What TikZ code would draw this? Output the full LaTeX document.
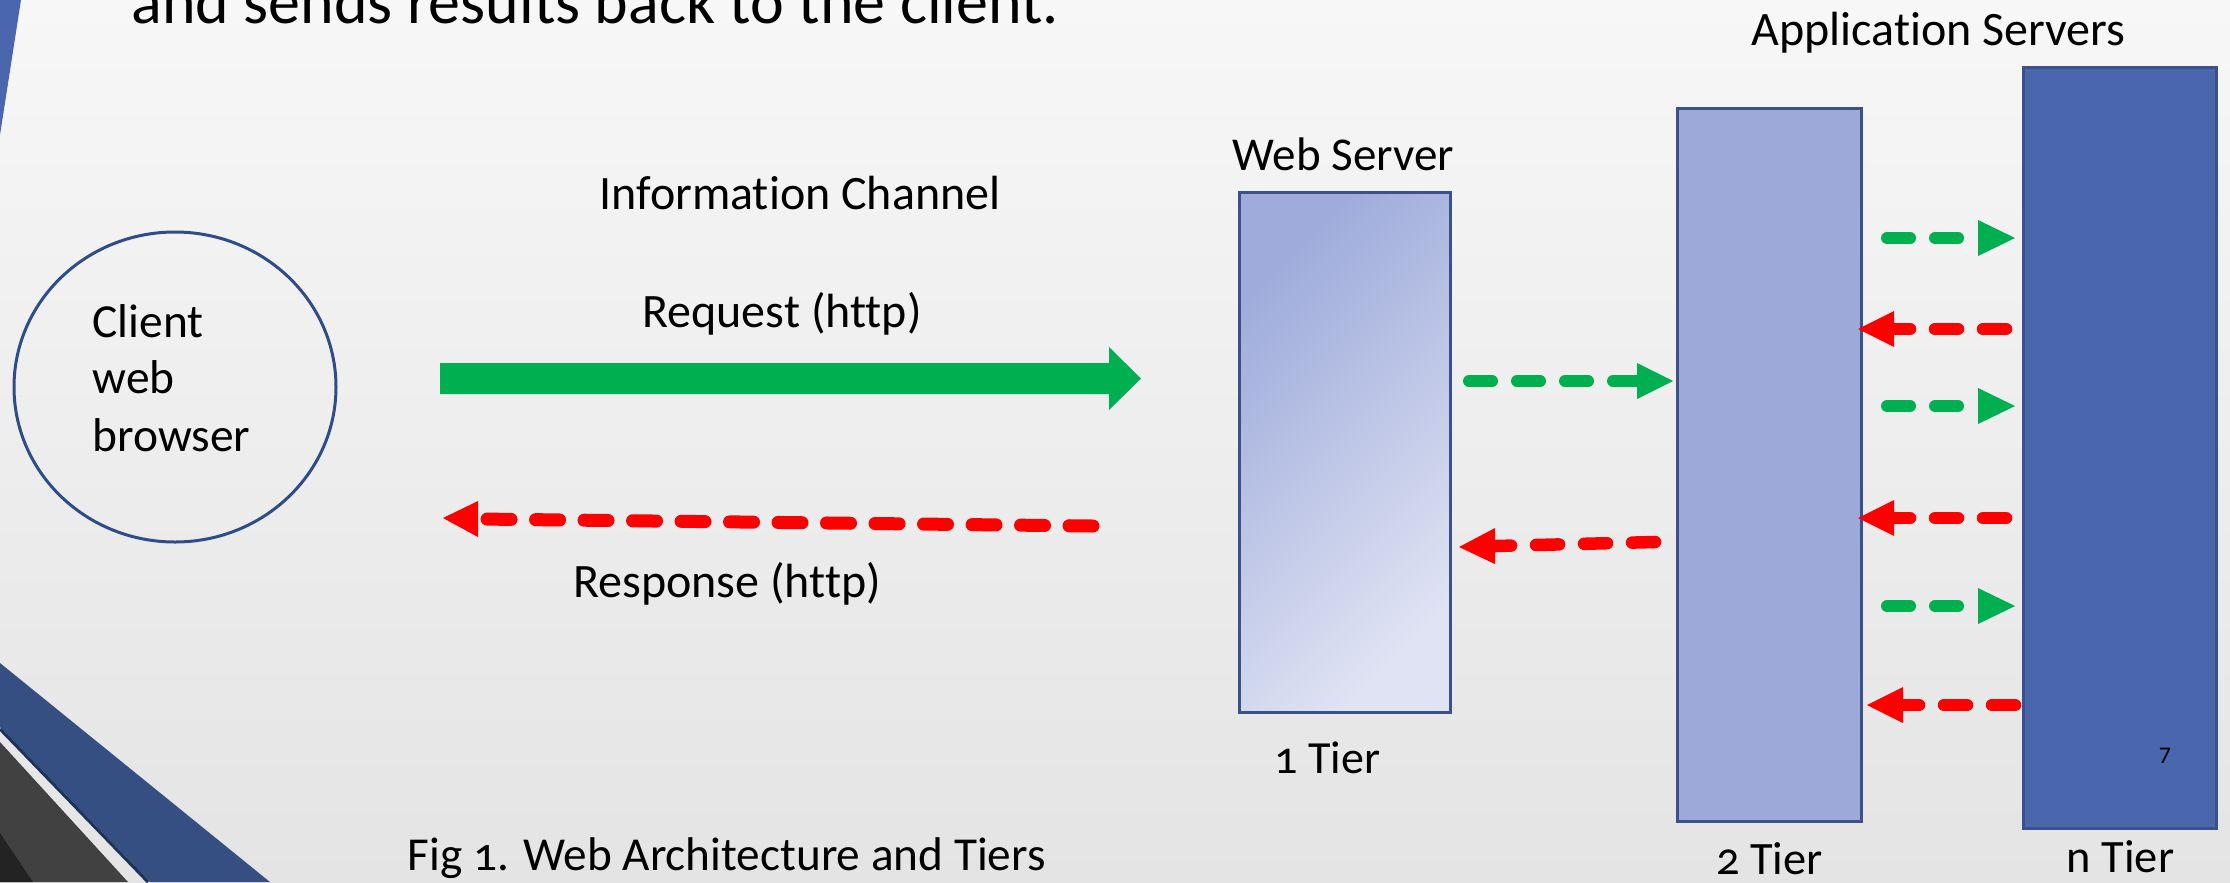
\documentclass[tikz,border=0pt]{standalone}
\usepackage{fontspec}
\setmainfont{Carlito}[Ligatures={NoCommon,NoContextual}]
\newfontfamily\osf{Carlito}[Numbers=OldStyle,Ligatures={NoCommon,NoContextual}]
\usetikzlibrary{calc,shapes.geometric}
\definecolor{bgtop}{HTML}{F7F7F7}
\definecolor{bgbot}{HTML}{E4E4E4}
\definecolor{slideblue}{HTML}{4A66AD}
\definecolor{banddark}{HTML}{364F82}
\definecolor{bandline}{HTML}{1F3158}
\definecolor{bandgray}{HTML}{414141}
\definecolor{bandblack}{HTML}{232323}
\definecolor{navy}{HTML}{3A5189}
\definecolor{circnavy}{HTML}{2F4C8A}
\definecolor{tiertwo}{HTML}{9DAAD9}
\definecolor{tiern}{HTML}{4A66AD}
\definecolor{wsA}{HTML}{9EABDB}
\definecolor{wsB}{HTML}{DFE3F3}
\definecolor{okgreen}{HTML}{00B050}
\definecolor{errred}{HTML}{FF0000}
\tikzset{
  lbl/.style={inner sep=0pt, anchor=base, font=\fontsize{13.66}{16}\selectfont},
  lblw/.style={inner sep=0pt, anchor=base west, font=\fontsize{13.5}{16}\selectfont},
  tierbox/.style={rectangle, draw=navy, line width=0.3mm, inner sep=0pt},
  gdash/.style={draw=okgreen, line width=1.2mm, line cap=round, dash pattern=on 2.3mm off 2.5mm},
  rdash/.style={draw=errred, line width=1.25mm, line cap=round, dash pattern=on 2.3mm off 2.5mm},
  rdashlong/.style={draw=errred, line width=1.3mm, line cap=round, dash pattern=on 2.4mm off 2.45mm},
}
% head: colour, base coordinate, tip coordinate
\newcommand{\headto}[3]{\fill[#1] ($(#2)+(0,-18)$) -- (#3) -- ($(#2)+(0,18)$) -- cycle;}
% dashed flow: style, colour, tail, base, tip
\newcommand{\flowarrow}[5]{\draw[#1] (#3) -- (#4); \headto{#2}{#4}{#5}}
\begin{document}
\begin{tikzpicture}[x=0.1mm,y=-0.1mm]
\useasboundingbox (0,0) rectangle (2230,882);
\clip (0,0) rectangle (2230,882);
% background
\shade[top color=bgtop, bottom color=bgbot] (0,0) rectangle (2230,882);
% slide decorations
\fill[slideblue] (0,0) -- (21,0) -- (0,135) -- cycle;
\fill[banddark] (0,663) -- (270,882) -- (150,882) -- (0,727) -- cycle;
\draw[bandline, line width=0.3mm] (0,729) -- (148,882);
\fill[bandgray] (0,742) -- (128,882) -- (0,882) -- cycle;
\fill[bandblack] (0,833) -- (33,882) -- (0,882) -- cycle;

% headline (cut by the top edge)
\node[inner sep=0pt, anchor=base west, font=\fontsize{18.2}{22}\selectfont] (headline) at (131,23) {and sends results back to the client.};

% client
\node[ellipse, draw=circnavy, line width=0.3mm, minimum width=32.2mm, minimum height=31mm, inner sep=0pt] (client) at (175,387) {};
\node[lblw] (clientA) at (92,337) {Client};
\node[lblw] (clientB) at (92,393) {web};
\node[lblw] (clientC) at (92,451) {browser};

% information channel
\node[lbl] (infoch) at (800,209) {Information Channel};
\node[lbl] (reqlbl) at (782,327) {Request (http)};
\node[lbl] (reslbl) at (727,597) {Response (http)};

\coordinate (reqS) at (440,378.5);
\coordinate (reqB) at (1109,378.5);
\coordinate (reqT) at (1141,378.5);
\fill[okgreen] ($(reqS)+(0,-15.5)$) -- ($(reqB)+(0,-15.5)$) -- ($(reqB)+(0,-31.5)$) -- (reqT)
  -- ($(reqB)+(0,31.5)$) -- ($(reqB)+(0,15.5)$) -- ($(reqS)+(0,15.5)$) -- cycle;

\coordinate (resS) at (1093,526);
\coordinate (resB) at (478,519);
\coordinate (resT) at (443,518);
\flowarrow{rdashlong}{errred}{resS}{resB}{resT}

% web server (1 tier)
\node[tierbox, top color=wsA, bottom color=wsB, shading angle=45, minimum width=21.1mm, minimum height=52mm] (web) at (1344.5,452) {};
\node[lbl, font=\fontsize{13.4}{16}\selectfont] (weblbl) at (1343.5,170) {Web Server};
\node[lbl, font=\fontsize{13.1}{16}\selectfont\osf] (t1lbl) at (1327.5,773) {1 Tier};

% tier 2 and tier n
\node[tierbox, fill=tiertwo, minimum width=18.4mm, minimum height=71.3mm] (tier2) at (1769,464.5) {};
\node[tierbox, fill=tiern, minimum width=19.3mm, minimum height=76.1mm] (tiern) at (2119.5,447.5) {};
\node[lbl] (applbl) at (1938.5,45) {Application Servers};
\node[lbl, font=\fontsize{13.2}{16}\selectfont\osf] (t2lbl) at (1769.5,874) {2 Tier};
\node[lbl, font=\fontsize{13.2}{16}\selectfont] (tnlbl) at (2120.5,872) {n Tier};
\node[inner sep=0pt, anchor=base, font=\fontsize{6.8}{8}\selectfont] (pageno) at (2165,763) {7};

% web server <-> tier 2
\coordinate (wgS) at (1469,381);
\coordinate (wgB) at (1637,381);
\coordinate (wgT) at (1673,381);
\flowarrow{gdash}{okgreen}{wgS}{wgB}{wgT}
\coordinate (wrS) at (1655,542);
\coordinate (wrB) at (1495,546);
\coordinate (wrT) at (1459,547);
\flowarrow{rdash}{errred}{wrS}{wrB}{wrT}

% tier 2 <-> tier n
\foreach \yy [count=\i] in {238,406,606}{
  \coordinate (ga\i) at (1887,\yy);
  \coordinate (gb\i) at (1978,\yy);
  \coordinate (gc\i) at (2015,\yy);
  \flowarrow{gdash}{okgreen}{ga\i}{gb\i}{gc\i}
}
\foreach \yy [count=\i] in {329,518}{
  \coordinate (ra\i) at (2006,\yy);
  \coordinate (rb\i) at (1894,\yy);
  \coordinate (rc\i) at (1858,\yy);
  \flowarrow{rdash}{errred}{ra\i}{rb\i}{rc\i}
}
\coordinate (ra3) at (2015,705);
\coordinate (rb3) at (1903,705);
\coordinate (rc3) at (1867,705);
\flowarrow{rdash}{errred}{ra3}{rb3}{rc3}

% caption
\node[inner sep=0pt, anchor=base west, font=\fontsize{13.45}{16}\selectfont\osf] (caption) at (407,870) {Fig 1. Web Architecture and Tiers};
\end{tikzpicture}
\end{document}
